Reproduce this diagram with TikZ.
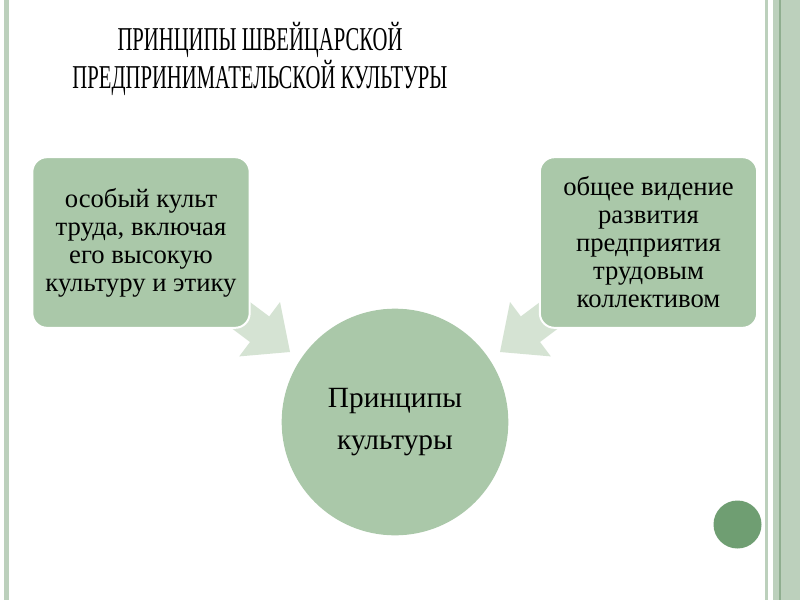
\documentclass[tikz,border=0pt]{standalone}
\usepackage{fontspec}
\setmainfont{Liberation Serif}
\newfontfamily\titlefont[FakeStretch=0.62]{Liberation Serif}
\definecolor{sage}{HTML}{AAC8A9}
\definecolor{arrowc}{HTML}{D5E3D3}
\definecolor{darksage}{HTML}{6F9E72}
\definecolor{barc}{HTML}{BCD0BC}
\definecolor{barline}{HTML}{8FAE8F}
\tikzset{
  box/.style={draw=white, line width=1.5pt, fill=sage, rounded corners=11pt, minimum width=163pt, minimum height=128pt, inner sep=0pt},
  boxtext/.style={align=center, font=\fontsize{20}{21}\selectfont},
  bigcirc/.style={circle, fill=sage, minimum size=170pt, inner sep=0pt, align=center, font=\fontsize{22}{32}\selectfont},
  blockarrow/.style={fill=arrowc}
}
\begin{document}
\begin{tikzpicture}[x=0.75pt,y=-0.75pt]
\useasboundingbox (0,0) rectangle (800,600);
\fill[white] (0,0) rectangle (800,600);
% side bars
\fill[barc] (4,0) rectangle (9,600);
\fill[barc] (765,0) rectangle (768,600);
\fill[barc] (773,0) rectangle (800,600);
\draw[barline, line width=0.8pt] (780,0) -- (780,600);
% title
\node[font=\titlefont\fontsize{25}{29}\selectfont, align=center] (title) at (260,59) {ПРИНЦИПЫ ШВЕЙЦАРСКОЙ\\ПРЕДПРИНИМАТЕЛЬСКОЙ КУЛЬТУРЫ};
% arrows (under boxes)
\fill[blockarrow] (290,352) -- (239.2,356.4) -- (250,342) -- (204.4,307.8) -- (223.6,282.2) -- (269.2,316.4) -- (280,302) -- cycle;
\fill[blockarrow] (500,352) -- (550.8,356.4) -- (540,342) -- (585.6,307.8) -- (566.4,282.2) -- (520.8,316.4) -- (510,302) -- cycle;
% boxes
\node[box, boxtext] (left) at (141,242.5) {особый культ\\труда, включая\\его высокую\\культуру и этику};
\node[box, boxtext] (right) at (648.5,242.5) {общее видение\\развития\\предприятия\\трудовым\\коллективом};
% circle
\node[bigcirc] (center) at (395,422) {Принципы\\культуры};
% small circle
\fill[darksage] (737.5,524.5) circle[radius=24];
\end{tikzpicture}
\end{document}
